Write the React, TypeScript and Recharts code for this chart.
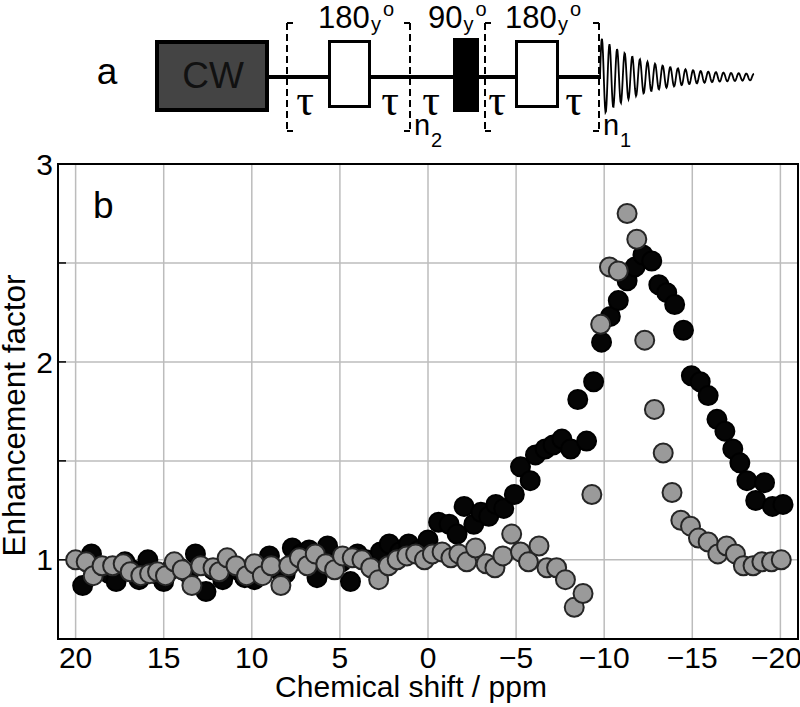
import {
  CartesianGrid,
  Label,
  ReferenceArea,
  Scatter,
  ScatterChart,
  XAxis,
  YAxis,
} from "recharts";

const shiftTicks = [20, 15, 10, 5, 0, -5, -10, -15, -20];
const factorTicks = [1, 1.5, 2, 2.5, 3];

// grey (open) series
const grayShift = [
  20.0, 19.4, 19.0, 18.5, 17.9, 17.3, 16.9, 16.3, 15.8, 15.35, 14.9, 14.4, 13.95, 13.4, 12.9, 12.2,
  11.85, 11.4, 10.9, 10.3, 9.85, 9.4, 8.9, 8.35, 7.9, 7.3, 6.85, 6.4, 5.8, 5.3, 4.85, 4.3, 3.75, 3.25,
  2.8, 2.25, 1.75, 1.2, 0.7, 0.2, -0.25, -0.8, -1.3, -1.75, -2.2, -2.7, -3.3, -3.8, -4.25, -4.75,
  -5.25, -5.7, -6.3, -6.75, -7.3, -7.8, -8.3, -8.8, -9.3, -9.8, -10.3, -10.8, -11.3, -11.85, -12.3,
  -12.85, -13.35, -13.85, -14.35, -14.9, -15.35, -15.9, -16.45, -16.95, -17.45, -17.9, -18.45,
  -18.95, -19.5, -20.05,
];
const grayFactor = [
  1.0, 0.99, 0.92, 0.97, 0.97, 0.98, 0.94, 0.92, 0.93, 0.94, 0.92, 0.99, 0.95, 0.87, 0.97, 0.96,
  0.94, 1.01, 0.97, 0.92, 0.98, 0.92, 0.97, 0.87, 0.97, 1.01, 0.97, 1.03, 0.98, 0.95, 1.02, 1.01,
  1.0, 0.96, 0.9, 0.97, 1.0, 1.02, 1.03, 1.0, 1.03, 1.04, 1.01, 1.03, 0.99, 1.06, 0.98, 0.96, 1.02,
  1.13, 1.04, 0.99, 1.07, 0.96, 0.96, 0.9, 0.76, 0.83, 1.33, 2.19, 2.48, 2.46, 2.75, 2.62, 2.11,
  1.76, 1.54, 1.34, 1.2, 1.17, 1.11, 1.09, 1.03, 1.07, 1.03, 0.97, 0.97, 0.99, 0.99, 1.0,
];

// black series
const blackShift = [
  19.6, 19.1, 18.6, 18.1, 17.7, 17.2, 16.8, 16.4, 15.9, 15.5, 15.0, 14.6, 14.1, 13.6, 13.2, 12.6,
  12.2, 11.65, 11.2, 10.8, 10.4, 9.85, 9.4, 9.0, 8.5, 8.1, 7.7, 7.2, 6.75, 6.3, 5.7, 5.3, 4.9, 4.4,
  4.0, 3.5, 3.1, 2.7, 2.2, 1.6, 1.1, 0.5, 0.0, -0.6, -1.2, -1.65, -2.05, -2.6, -3.0, -3.45, -3.85,
  -4.3, -4.9, -5.25, -5.8, -6.1, -6.65, -7.1, -7.6, -8.1, -8.5, -9.0, -9.4, -9.85, -10.35, -10.8,
  -11.3, -11.75, -12.2, -12.7, -13.1, -13.55, -14.0, -14.5, -14.95, -15.45, -15.9, -16.4, -16.85,
  -17.3, -17.7, -18.1, -18.6, -19.1, -19.55, -20.15,
];
const blackFactor = [
  0.87, 1.03, 0.96, 0.93, 0.89, 0.99, 0.95, 0.9, 1.0, 0.93, 0.89, 0.95, 0.96, 0.93, 1.03, 0.84,
  0.95, 0.9, 0.97, 0.95, 0.91, 0.9, 0.96, 1.02, 0.95, 0.93, 1.06, 1.03, 1.05, 0.91, 1.07, 0.98,
  0.99, 0.89, 1.03, 1.0, 0.97, 1.04, 1.08, 1.04, 1.08, 1.05, 1.1, 1.19, 1.18, 1.13, 1.27, 1.18,
  1.24, 1.22, 1.28, 1.26, 1.33, 1.47, 1.4, 1.53, 1.56, 1.58, 1.61, 1.56, 1.81, 1.6, 1.9, 2.1, 2.23,
  2.31, 2.41, 2.48, 2.54, 2.51, 2.39, 2.35, 2.29, 2.16, 1.93, 1.9, 1.83, 1.71, 1.65, 1.56, 1.49,
  1.4, 1.3, 1.39, 1.27, 1.28,
];

const grayPoints = grayShift.map((x, i) => ({ x, y: grayFactor[i] }));
const blackPoints = blackShift.map((x, i) => ({ x, y: blackFactor[i] }));

const sans = "'Liberation Sans', Arial, Helvetica, sans-serif";
const serif = "'Liberation Serif', 'Times New Roman', serif";

const fmtShift = (v: number) => (v < 0 ? "\u2212" + Math.abs(v) : String(v));
const fmtFactor = (v: number) => (Number.isInteger(v) ? String(v) : "");

const blackDot = (p: any) => (
  <circle cx={p.cx} cy={p.cy} r={9.5} fill="#050505" stroke="#000" strokeWidth={2} />
);
const grayDot = (p: any) => (
  <circle cx={p.cx} cy={p.cy} r={9.5} fill="#9a9a9a" stroke="#262626" strokeWidth={2} />
);

// free induction decay sketch in the pulse diagram
const fid = (() => {
  let d = "M600 77";
  for (let t = 0.5; t <= 154; t += 0.5) {
    const amp = 38 * Math.exp(-t / 45) + 2;
    const y = 77 - amp * Math.sin((2 * Math.PI * t) / 7.6);
    d += ` L${(600 + t).toFixed(1)} ${y.toFixed(2)}`;
  }
  return d;
})();

function Bracket({ x, dir }: { x: number; dir: number }) {
  return (
    <g stroke="#000" strokeWidth={2} fill="none">
      <line x1={x} x2={x} y1={23} y2={132} strokeDasharray="7 4" />
      <line x1={x} x2={x + 6 * dir} y1={23} y2={23} />
      <line x1={x} x2={x + 6 * dir} y1={131} y2={131} />
    </g>
  );
}

function PulseLabel({ x, num }: { x: number; num: string }) {
  const w = num.length * 17.3;
  return (
    <g fontFamily={sans} fill="#000">
      <text x={x} y={28} fontSize={31}>{num}</text>
      <text x={x + w + 1} y={31} fontSize={20}>y</text>
      <text x={x + w + 13} y={16} fontSize={20}>o</text>
    </g>
  );
}

function PulseDiagram() {
  const taus = [305, 390, 431, 497, 574];
  return (
    <svg width={800} height={707} style={{ position: "absolute", left: 0, top: 0, pointerEvents: "none" }}>
      <text x={107} y={84} fontSize={37} fontFamily={sans} textAnchor="middle">a</text>
      <line x1={268} x2={601} y1={77} y2={77} stroke="#000" strokeWidth={4} />
      <rect x={157} y={42} width={110} height={68} fill="#444" stroke="#000" strokeWidth={4} />
      <text x={213} y={88} fontSize={37} fontFamily={sans} textAnchor="middle" fill="#111">CW</text>
      <rect x={329.5} y={41.5} width={40} height={65} fill="#fff" stroke="#000" strokeWidth={3} />
      <rect x={453} y={38} width={26} height={74} fill="#000" />
      <rect x={516.5} y={41.5} width={41} height={65} fill="#fff" stroke="#000" strokeWidth={3} />
      <Bracket x={287} dir={1} />
      <Bracket x={410} dir={-1} />
      <Bracket x={485} dir={1} />
      <Bracket x={599} dir={-1} />
      <PulseLabel x={318} num="180" />
      <PulseLabel x={428} num="90" />
      <PulseLabel x={505} num="180" />
      {taus.map((tx) => (
        <text key={tx} x={tx} y={115} fontSize={44} fontFamily={serif} textAnchor="middle">τ</text>
      ))}
      <text x={414} y={135} fontSize={29} fontFamily={sans}>n</text>
      <text x={431} y={147} fontSize={20} fontFamily={sans}>2</text>
      <text x={603} y={135} fontSize={29} fontFamily={sans}>n</text>
      <text x={620} y={147} fontSize={20} fontFamily={sans}>1</text>
      <path d={fid} fill="none" stroke="#000" strokeWidth={1.8} />
      <text x={93} y={218} fontSize={37} fontFamily={sans}>b</text>
    </svg>
  );
}

export default function App() {
  const tick = { fill: "#000", fontSize: 30, fontFamily: sans };
  return (
    <div style={{ position: "relative", width: 800, height: 707, background: "#fff" }}>
      <style>{"body{margin:0}"}</style>
      <ScatterChart width={800} height={707} margin={{ top: 164, right: 2, bottom: 0, left: 0 }}>
        <CartesianGrid stroke="#bcbcbc" strokeWidth={1.5} />
        <XAxis
          type="number"
          dataKey="x"
          domain={[-21, 21]}
          reversed
          ticks={shiftTicks}
          allowDataOverflow
          height={68}
          tickFormatter={fmtShift}
          tick={tick}
          tickLine={false}
          tickSize={0}
          tickMargin={8}
          axisLine={{ stroke: "#000", strokeWidth: 2 }}
        >
          <Label
            value="Chemical shift / ppm"
            position="insideBottom"
            offset={10}
            dx={-17}
            style={{ fontSize: 30, fill: "#000", fontFamily: sans }}
          />
        </XAxis>
        <YAxis
          type="number"
          dataKey="y"
          domain={[0.6, 3]}
          ticks={factorTicks}
          allowDataOverflow
          width={58}
          tickFormatter={fmtFactor}
          tick={tick}
          tickSize={-8}
          tickMargin={13}
          tickLine={{ stroke: "#000", strokeWidth: 1.5 }}
          axisLine={{ stroke: "#000", strokeWidth: 2 }}
        >
          <Label
            value="Enhancement factor"
            angle={-90}
            position="insideLeft"
            offset={14}
            dy={14}
            style={{ fontSize: 31.5, fill: "#000", fontFamily: sans, textAnchor: "middle" }}
          />
        </YAxis>
        <ReferenceArea x1={21} x2={-21} y1={0.6} y2={3} fill="none" stroke="#000" strokeWidth={2} />
        <Scatter data={blackPoints} isAnimationActive={false} shape={blackDot} />
        <Scatter data={grayPoints} isAnimationActive={false} shape={grayDot} />
      </ScatterChart>
      <PulseDiagram />
    </div>
  );
}
